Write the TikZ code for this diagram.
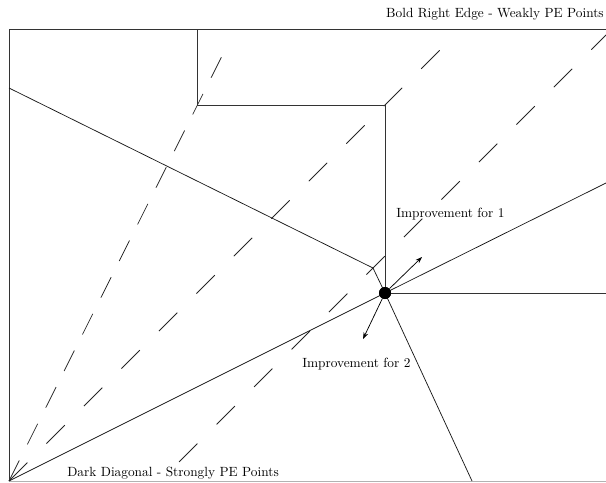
\documentclass[tikz,border=0pt]{standalone}
\usetikzlibrary{arrows.meta}

\begin{document}
\begin{tikzpicture}[
 x=0.75pt,y=-0.75pt,
 every node/.style={font=\normalsize,inner sep=0pt},
 frame/.style={draw=black!80,line width=0.75pt},
 bound/.style={draw=black!90,line width=0.55pt},
 ray/.style={draw=black!85,line width=0.55pt,dash pattern=on 19.5pt off 20.25pt},
 steepray/.style={ray,dash pattern=on 17.25pt off 13.5pt},
 improve/.style={-{Stealth[length=5pt,width=3.5pt]},draw=black,line width=0.55pt}]
\useasboundingbox (0,0) rectangle (606,482);
\coordinate (o) at (9,481);
\coordinate (tl) at (9,29);
\coordinate (tr) at (606,29);
\coordinate (br) at (606,481);
\coordinate (s1) at (197,29);
\coordinate (s2) at (197,105);
\coordinate (s3) at (385,105);
\coordinate (kl) at (9,88);
\coordinate (kb) at (373,268);
\coordinate (kd) at (472,481);
\coordinate (de) at (606,183);
\coordinate (we) at (606,293);
\coordinate (a1) at (422,257);
\coordinate (a2) at (363,339);
\coordinate (r1) at (229,42);
\coordinate (r2) at (446,44);
\coordinate (r3a) at (160,481);
\coordinate (r3b) at (606,35);
\node[circle,fill=black,minimum size=9pt] (pe) at (385,293) {};
\draw[steepray] (o) -- (r1);
\draw[ray] (o) -- (r2);
\draw[ray,dash phase=19.5pt] (r3a) -- (r3b);
\draw[draw=black!30,line width=0.5pt] (o) -- (br);
\draw[frame] (o) -- (tl) -- (tr);
\draw[frame] (s1) -- (s2) -- (s3) -- (pe.center) -- (we);
\draw[bound] (kl) -- (kb) -- (pe.center) -- (kd);
\draw[bound] (o) -- (pe.center) -- (de);
\node[circle,fill=black,minimum size=9pt] at (pe) {};
\draw[improve] (pe) -- (a1);
\draw[improve] (pe) -- (a2);
\node[anchor=base east] (weak) at (604,17) {Bold Right Edge - Weakly PE Points};
\node[anchor=base west] (imp1) at (396,217) {Improvement for 1};
\node[anchor=base west] (imp2) at (302,367) {Improvement for 2};
\node[anchor=base west] (strong) at (67,476) {Dark Diagonal - Strongly PE Points};
\end{tikzpicture}
\end{document}
